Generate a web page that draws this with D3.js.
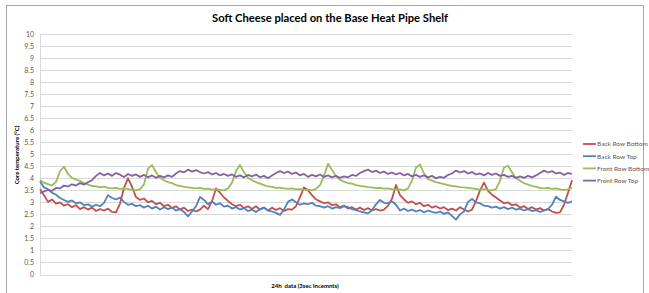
<!DOCTYPE html>
<html>
<head>
<meta charset="utf-8">
<script src="https://cdn.jsdelivr.net/npm/d3@7"></script>
<style>
  body { margin: 0; background: #fff; }
  svg { display: block; font-family: Lato, "Open Sans", sans-serif; }
</style>
</head>
<body>
<svg id="chart" width="649" height="293"></svg>
<script>
// chart data, one reading every few minutes across the 24h run
const seriesNames = ["Back Row Bottom", "Back Row Top", "Front Row Bottom", "Front Row Top"]
const seriesColors = ["#c0504d", "#4f81bd", "#9bbb59", "#8064a2"]
const yTicks = [0, 0.5, 1, 1.5, 2, 2.5, 3, 3.5, 4, 4.5, 5, 5.5, 6, 6.5, 7, 7.5, 8, 8.5, 9, 9.5, 10]

const backRowBottom = [
  3.55, 3.30, 3.02, 3.12, 2.95, 3.00, 2.86, 2.92, 2.80, 2.88,
  2.72, 2.80, 2.70, 2.78, 2.64, 2.72, 2.66, 2.74, 2.60, 2.58,
  2.95, 3.60, 4.00, 3.65, 3.22, 3.10, 3.16, 3.00, 3.06, 2.92,
  2.98, 2.84, 2.90, 2.76, 2.84, 2.70, 2.78, 2.64, 2.70, 2.62,
  2.70, 2.86, 2.72, 3.05, 3.58, 3.40, 3.20, 3.06, 2.92, 2.84,
  2.90, 2.76, 2.84, 2.72, 2.84, 2.70, 2.78, 2.66, 2.78, 2.68,
  2.76, 2.64, 2.72, 2.70, 2.84, 3.22, 3.62, 3.50, 3.30, 3.12,
  3.04, 2.96, 3.00, 2.88, 2.92, 2.80, 2.86, 2.74, 2.80, 2.70,
  2.78, 2.68, 2.76, 2.66, 2.72, 2.66, 2.70, 2.86, 3.15, 3.72,
  3.30, 3.12, 2.98, 3.04, 2.92, 2.98, 2.84, 2.90, 2.78, 2.84,
  2.74, 2.80, 2.68, 2.74, 2.66, 2.80, 2.70, 2.62, 2.70, 3.05,
  3.50, 3.82, 3.48, 3.32, 3.20, 3.08, 2.96, 3.00, 2.88, 2.92,
  2.78, 2.84, 2.72, 2.80, 2.70, 2.76, 2.66, 2.72, 2.62, 2.56,
  2.58, 2.90, 3.40, 3.92
]
const backRowTop = [
  3.88, 3.62, 3.55, 3.40, 3.32, 3.18, 3.10, 3.02, 3.08, 2.96,
  3.00, 2.88, 2.92, 2.82, 2.90, 2.84, 2.98, 3.30, 3.18, 3.12,
  3.20, 3.02, 2.90, 2.94, 2.84, 2.88, 2.78, 2.86, 2.74, 2.82,
  2.70, 2.80, 2.72, 2.78, 2.66, 2.72, 2.60, 2.42, 2.62, 2.84,
  3.22, 3.10, 2.92, 3.04, 2.90, 2.96, 2.82, 2.86, 2.74, 2.80,
  2.70, 2.76, 2.64, 2.70, 2.60, 2.72, 2.78, 2.66, 2.62, 2.56,
  2.48, 2.70, 3.02, 3.12, 3.00, 2.90, 2.96, 2.92, 2.98, 2.86,
  2.84, 2.78, 2.84, 2.74, 2.80, 2.76, 2.84, 2.80, 2.72, 2.68,
  2.62, 2.58, 2.54, 2.68, 2.92, 3.10, 2.98, 2.96, 3.04, 2.90,
  2.66, 2.74, 2.64, 2.70, 2.62, 2.68, 2.58, 2.66, 2.60, 2.56,
  2.62, 2.52, 2.58, 2.44, 2.28, 2.50, 2.62, 3.02, 3.14, 3.00,
  2.96, 2.86, 2.84, 2.78, 2.82, 2.74, 2.80, 2.72, 2.78, 2.70,
  2.74, 2.66, 2.72, 2.64, 2.68, 2.60, 2.66, 2.72, 2.90, 3.24,
  3.10, 3.04, 2.98, 3.04
]
const frontRowBottom = [
  3.92, 3.82, 3.76, 3.70, 3.85, 4.30, 4.48, 4.18, 4.02, 3.95,
  3.88, 3.80, 3.74, 3.68, 3.66, 3.62, 3.65, 3.60, 3.58, 3.60,
  3.56, 3.58, 3.55, 3.52, 3.50, 3.55, 3.75, 4.40, 4.55, 4.25,
  4.02, 3.92, 3.84, 3.80, 3.72, 3.68, 3.64, 3.62, 3.60, 3.58,
  3.60, 3.56, 3.57, 3.53, 3.54, 3.52, 3.50, 3.58, 3.82, 4.30,
  4.55, 4.25, 4.02, 3.92, 3.84, 3.78, 3.72, 3.66, 3.64, 3.60,
  3.61, 3.58, 3.56, 3.58, 3.54, 3.55, 3.52, 3.53, 3.50, 3.56,
  3.72, 4.10, 4.60, 4.35, 4.08, 3.94, 3.86, 3.80, 3.78, 3.72,
  3.68, 3.66, 3.63, 3.62, 3.59, 3.60, 3.57, 3.58, 3.55, 3.53,
  3.54, 3.50, 3.58, 3.90, 4.45, 4.58, 4.20, 3.96, 3.90, 3.84,
  3.80, 3.76, 3.72, 3.68, 3.66, 3.63, 3.62, 3.60, 3.58, 3.56,
  3.53, 3.55, 3.52, 3.50, 3.55, 3.90, 4.45, 4.52, 4.25, 4.00,
  3.90, 3.80, 3.74, 3.68, 3.64, 3.60, 3.58, 3.60, 3.56, 3.58,
  3.54, 3.52, 3.54, 3.60
]
const frontRowTop = [
  3.38, 3.45, 3.52, 3.48, 3.60, 3.58, 3.70, 3.66, 3.75, 3.70,
  3.80, 3.74, 3.84, 3.92, 4.10, 4.22, 4.12, 4.20, 4.10, 4.22,
  4.15, 4.05, 4.18, 4.10, 4.16, 4.06, 4.14, 4.04, 4.12, 4.02,
  4.10, 4.04, 4.12, 4.06, 4.20, 4.30, 4.25, 4.36, 4.28, 4.34,
  4.26, 4.20, 4.26, 4.16, 4.22, 4.12, 4.18, 4.10, 4.16, 4.06,
  4.12, 4.04, 4.14, 4.08, 4.16, 4.04, 4.10, 4.00, 4.12, 4.22,
  4.30, 4.22, 4.28, 4.18, 4.24, 4.12, 4.18, 4.06, 4.14, 4.08,
  4.16, 4.06, 4.12, 4.04, 4.10, 4.02, 4.08, 4.04, 4.14, 4.10,
  4.22, 4.30, 4.36, 4.26, 4.32, 4.22, 4.28, 4.18, 4.24, 4.16,
  4.22, 4.12, 4.18, 4.08, 4.14, 4.06, 4.12, 4.04, 4.10, 4.00,
  4.06, 4.02, 4.14, 4.20, 4.32, 4.24, 4.30, 4.20, 4.26, 4.16,
  4.20, 4.12, 4.22, 4.14, 4.20, 4.10, 4.14, 4.06, 4.10, 4.02,
  4.08, 4.02, 4.10, 4.04, 4.12, 4.22, 4.32, 4.24, 4.30, 4.20,
  4.24, 4.14, 4.22, 4.18
]

const allSeries = [backRowBottom, backRowTop, frontRowBottom, frontRowTop]

let svg = d3.select('#chart')

// outer chart frame
svg.append('rect')
    .attr('x', 6.5).attr('y', 5.5)
    .attr('width', 637).attr('height', 300)
    .attr('fill', 'none')
    .attr('stroke', '#a6a6a6')
    .attr('stroke-width', 1)

let plotLeft = 40, plotRight = 572, plotTop = 34, plotBottom = 274.5

let x = d3.scaleLinear().domain([0, backRowBottom.length - 1]).range([plotLeft, plotRight])
let y = d3.scaleLinear().domain([0, 10]).range([plotBottom, plotTop])

// gridlines
svg.append('g')
    .selectAll('line')
    .data(yTicks)
    .enter()
    .append('line')
    .attr('x1', plotLeft).attr('x2', plotRight)
    .attr('y1', function (d) { return Math.round(y(d)) + 0.5 })
    .attr('y2', function (d) { return Math.round(y(d)) + 0.5 })
    .attr('stroke', '#d9d9d9')
    .attr('stroke-width', 1)

// y axis line
svg.append('line')
    .attr('x1', plotLeft + 0.5).attr('x2', plotLeft + 0.5)
    .attr('y1', plotTop).attr('y2', plotBottom)
    .attr('stroke', '#d9d9d9')

// y tick labels
let yAxis = svg.append('g')
    .attr('transform', `translate(${plotLeft - 3},0)`)
    .call(d3.axisLeft(y).tickValues(yTicks).tickSize(0).tickPadding(3)
        .tickFormat(function (d) { return String(d) }))
yAxis.select('.domain').remove()
yAxis.selectAll('text')
    .attr('font-family', 'Lato, sans-serif')
    .attr('font-size', 7)
    .attr('fill', '#595959')

// series lines
let line = d3.line()
    .x(function (d, i) { return x(i) })
    .y(function (d) { return y(d) })

svg.append('g')
    .selectAll('path')
    .data(allSeries)
    .enter()
    .append('path')
    .attr('d', line)
    .attr('fill', 'none')
    .attr('stroke', function (d, i) { return seriesColors[i] })
    .attr('stroke-width', 1.8)
    .attr('stroke-linejoin', 'round')

// title
svg.append('text')
    .attr('x', 330).attr('y', 22)
    .attr('text-anchor', 'middle')
    .attr('font-size', 12)
    .attr('font-weight', 'bold')
    .attr('fill', '#000')
    .attr('textLength', 236)
    .attr('lengthAdjust', 'spacingAndGlyphs')
    .text('Soft Cheese placed on the Base Heat Pipe Shelf')

// axis titles
svg.append('text')
    .attr('transform', 'translate(19,155) rotate(-90)')
    .attr('text-anchor', 'middle')
    .attr('font-size', 6)
    .attr('font-weight', 'bold')
    .attr('fill', '#000')
    .text('Core temperature (°C)')

svg.append('text')
    .attr('x', 305).attr('y', 288)
    .attr('text-anchor', 'middle')
    .attr('font-size', 6)
    .attr('font-weight', 'bold')
    .attr('fill', '#000')
    .attr('xml:space', 'preserve')
    .text('24h  data (3sec incemnts)')

// legend
let legend = svg.append('g')
    .selectAll('g')
    .data(seriesNames)
    .enter()
    .append('g')
    .attr('transform', function (d, i) { return `translate(583,${144 + i * 12.2})` })

legend.append('line')
    .attr('x1', 0).attr('x2', 13)
    .attr('stroke', function (d, i) { return seriesColors[i] })
    .attr('stroke-width', 1.8)

legend.append('text')
    .attr('x', 14).attr('y', 2.3)
    .attr('font-size', 6.5)
    .attr('fill', '#595959')
    .text(function (d) { return d })
</script>
</body>
</html>
